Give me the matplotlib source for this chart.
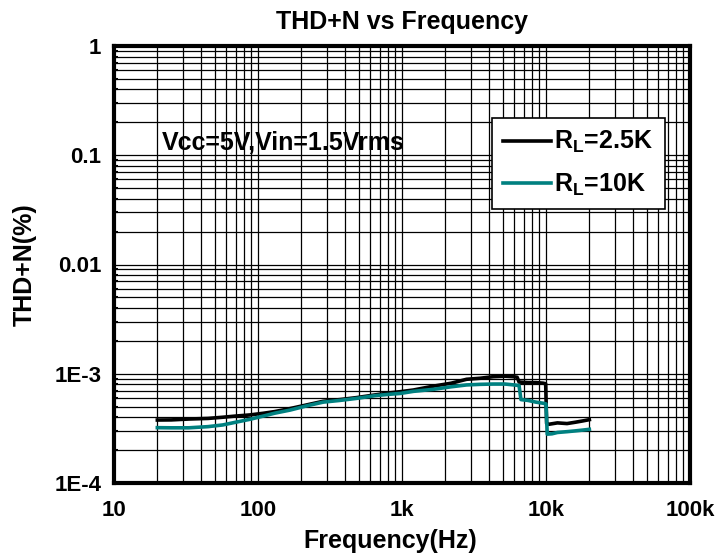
import matplotlib
matplotlib.use("Agg")
import matplotlib.pyplot as plt
from matplotlib.ticker import LogLocator, FixedLocator, NullFormatter

plt.rcParams['font.family'] = ['Liberation Sans', 'DejaVu Sans']
plt.rcParams['font.weight'] = 'bold'
plt.rcParams['mathtext.fontset'] = 'custom'
plt.rcParams['mathtext.rm'] = 'Liberation Sans:bold'
plt.rcParams['mathtext.it'] = 'Liberation Sans:bold'
plt.rcParams['mathtext.bf'] = 'Liberation Sans:bold'

# RL = 2.5K
freq_25k = [20, 25, 33, 45, 57, 70, 88, 109, 130, 167, 220, 284, 370, 484, 650, 830,
            970, 1200, 1650, 2200, 2810, 3500, 4300, 5200, 5930, 6300, 6500, 7500,
            8500, 9550, 9950, 10100, 10500, 12000, 14000, 16000, 18000, 20000]
thd_25k = [3.77e-4, 3.78e-4, 3.85e-4, 3.9e-4, 4.0e-4, 4.1e-4, 4.2e-4, 4.35e-4, 4.5e-4,
           4.8e-4, 5.2e-4, 5.6e-4, 5.8e-4, 6.05e-4, 6.4e-4, 6.7e-4, 6.85e-4, 7.1e-4,
           7.7e-4, 8.2e-4, 8.9e-4, 9.1e-4, 9.4e-4, 9.5e-4, 9.4e-4, 9.3e-4, 8.4e-4,
           8.3e-4, 8.3e-4, 8.2e-4, 8.1e-4, 3.5e-4, 3.45e-4, 3.55e-4, 3.5e-4, 3.6e-4,
           3.7e-4, 3.8e-4]

# RL = 10K
freq_10k = [20, 25, 33, 45, 57, 70, 88, 109, 130, 167, 220, 284, 370, 484, 650, 830,
            970, 1200, 1650, 2200, 2810, 3500, 4300, 5200, 6000, 6500, 6700, 7500,
            8500, 9550, 10000, 10200, 11000, 12000, 14000, 16000, 18000, 20000]
thd_10k = [3.21e-4, 3.2e-4, 3.2e-4, 3.28e-4, 3.4e-4, 3.6e-4, 3.83e-4, 4.1e-4, 4.35e-4,
           4.65e-4, 5.1e-4, 5.5e-4, 5.7e-4, 5.95e-4, 6.3e-4, 6.5e-4, 6.6e-4, 6.9e-4,
           7.2e-4, 7.6e-4, 7.9e-4, 8.0e-4, 8.05e-4, 8.05e-4, 7.9e-4, 7.8e-4, 5.8e-4,
           5.7e-4, 5.5e-4, 5.37e-4, 5.3e-4, 2.8e-4, 2.82e-4, 2.9e-4, 2.95e-4, 3.0e-4,
           3.05e-4, 3.1e-4]

x_ticks = [10, 100, 1000, 10000, 100000]
x_labels = ['10', '100', '1k', '10k', '100k']
y_ticks = [1e-4, 1e-3, 1e-2, 1e-1, 1]
y_labels = ['1E-4', '1E-3', '0.01', '0.1', '1']

fig = plt.figure(figsize=(7.18, 5.59), dpi=100)
ax = fig.add_axes([114 / 718, 1 - 483 / 559, 576 / 718, 437 / 559])

ax.plot(freq_25k, thd_25k, color='black', lw=2.6, label=r'R$_\mathregular{L}$=2.5K', zorder=3)
ax.plot(freq_10k, thd_10k, color='#008080', lw=2.6, label=r'R$_\mathregular{L}$=10K', zorder=3)

ax.set_xscale('log')
ax.set_yscale('log')
ax.set_xlim(10, 100000)
ax.set_ylim(1e-4, 1)

ax.xaxis.set_major_locator(FixedLocator(x_ticks))
ax.set_xticklabels(x_labels)
ax.yaxis.set_major_locator(FixedLocator(y_ticks))
ax.set_yticklabels(y_labels)
ax.xaxis.set_minor_locator(LogLocator(base=10, subs=range(2, 10), numticks=20))
ax.yaxis.set_minor_locator(LogLocator(base=10, subs=range(2, 10), numticks=20))
ax.xaxis.set_minor_formatter(NullFormatter())
ax.yaxis.set_minor_formatter(NullFormatter())

ax.grid(True, which='both', color='black', lw=0.9)
ax.tick_params(axis='x', which='major', labelsize=16, length=0, pad=12)
ax.tick_params(axis='y', which='major', labelsize=16, length=0, pad=9)
ax.tick_params(axis='x', which='minor', length=0)
ax.tick_params(axis='y', which='minor', direction='in', length=3, width=1.5)
for s in ax.spines.values():
    s.set_linewidth(3)

ax.set_title('THD+N vs Frequency', fontsize=18, fontweight='bold', pad=12)
ax.set_xlabel('Frequency(Hz)', fontsize=18, fontweight='bold', labelpad=6, x=0.48)
ax.set_ylabel('THD+N(%)', fontsize=18, fontweight='bold', labelpad=13)

fig.text(162 / 718, 1 - 150 / 559, 'Vcc=5V,Vin=1.5Vrms', fontsize=18, fontweight='bold',
         va='baseline', ha='left')

leg = ax.legend(loc='upper left', bbox_to_anchor=((492 - 114) / 576, (483 - 118) / 437),
                fontsize=18, frameon=True, fancybox=False, framealpha=1,
                edgecolor='black', handlelength=1.9, handletextpad=0.15,
                borderpad=0.45, labelspacing=0.65, borderaxespad=0)
leg.get_frame().set_linewidth(1.2)
for t in leg.get_texts():
    t.set_fontweight('bold')

fig.savefig('out.png', dpi=100)
